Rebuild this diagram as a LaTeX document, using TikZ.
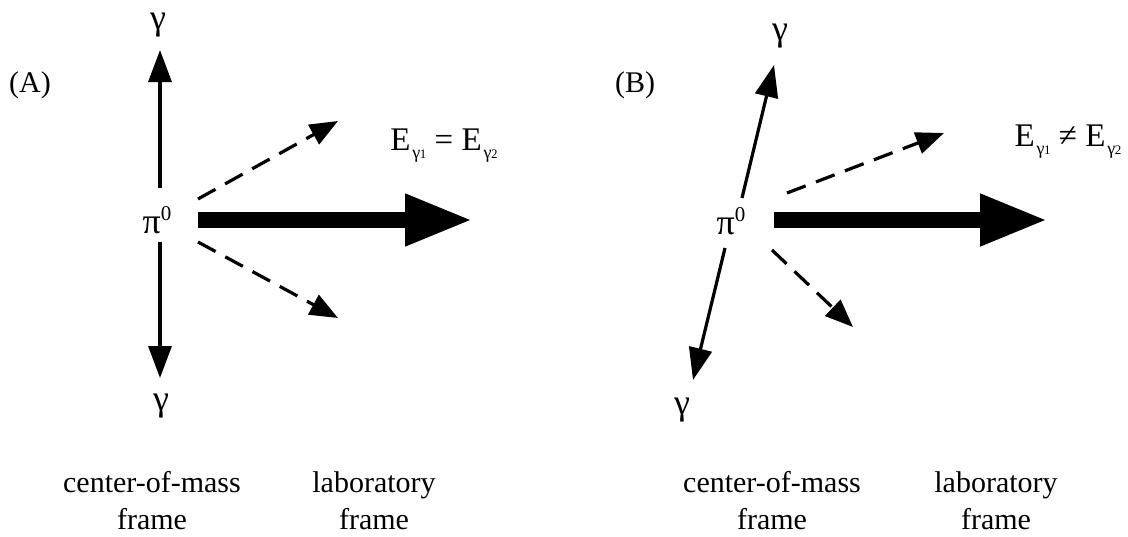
\documentclass[tikz,border=0pt]{standalone}
\usepackage{fontspec}
\setmainfont{Liberation Serif}
\usetikzlibrary{arrows.meta}
\newcommand{\Egam}[1]{E\kern2pt\raisebox{-8pt}{\fontsize{18}{18}\selectfont γ\kern-0.5pt\fontsize{13}{13}\selectfont #1}}
\begin{document}
\begin{tikzpicture}[x=1pt,y=-1pt,
  photon/.style={line width=3.2pt,-{Triangle[length=32pt,width=23pt]}},
  dasharr/.style={line width=3.2pt,dash pattern=on 20pt off 11pt,-{Triangle[length=28pt,width=22pt]}},
  boost/.style={line width=16pt,-{Triangle[length=68pt,width=48pt]}},
  lbl/.style={font=\fontsize{30}{37}\selectfont,align=center,inner sep=0pt},
  greek/.style={font=\fontsize{36}{36}\selectfont,inner sep=0pt},
  eqlbl/.style={font=\fontsize{33}{33}\selectfont,inner sep=0pt}]
\useasboundingbox (0,0) rectangle (1128,536);

% ---------- panel A ----------
\node[lbl] (labA) at (30,85) {(A)};
\node[greek] (gAt) at (158,25) {γ};
\node[greek] (gAb) at (161,406) {γ};
\node[greek] (pA) at (157,220) {π\raisebox{13pt}{\fontsize{21}{21}\selectfont 0}};
\node[eqlbl] (eqA) at (444,146) {\Egam{1} = \Egam{2}};
\coordinate (aUs) at (160,188);
\coordinate (aUe) at (160,50);
\coordinate (aDs) at (160,242);
\coordinate (aDe) at (160,378);
\coordinate (aQs) at (198,199);
\coordinate (aQe) at (338,121);
\coordinate (aRs) at (198,242);
\coordinate (aRe) at (338,318);
\coordinate (aTs) at (198,220);
\coordinate (aTe) at (473,220);
\draw[photon] (aUs) -- (aUe);
\draw[photon] (aDs) -- (aDe);
\draw[dasharr] (aQs) -- (aQe);
\draw[dasharr] (aRs) -- (aRe);
\draw[boost] (aTs) -- (aTe);
\node[lbl] (cmA) at (152,501) {center-of-mass\\frame};
\node[lbl] (lfA) at (374,501) {laboratory\\frame};

% ---------- panel B ----------
\node[lbl] (labB) at (635,85) {(B)};
\node[greek] (gBt) at (780,36) {γ};
\node[greek] (gBb) at (682,410) {γ};
\node[greek] (pB) at (731,221) {π\raisebox{13pt}{\fontsize{21}{21}\selectfont 0}};
\node[eqlbl] (eqB) at (1068,142) {\Egam{1} ≠ \Egam{2}};
\coordinate (bUs) at (742,198);
\coordinate (bUe) at (774,65);
\coordinate (bDs) at (725,248);
\coordinate (bDe) at (693,380);
\coordinate (bQs) at (787,193);
\coordinate (bQe) at (944,133);
\coordinate (bRs) at (772,250);
\coordinate (bRe) at (853,327);
\coordinate (bTs) at (774,220);
\coordinate (bTe) at (1048,220);
\draw[photon] (bUs) -- (bUe);
\draw[photon] (bDs) -- (bDe);
\draw[dasharr] (bQs) -- (bQe);
\draw[dasharr] (bRs) -- (bRe);
\draw[boost] (bTs) -- (bTe);
\node[lbl] (cmB) at (772,501) {center-of-mass\\frame};
\node[lbl] (lfB) at (996,501) {laboratory\\frame};
\end{tikzpicture}
\end{document}
